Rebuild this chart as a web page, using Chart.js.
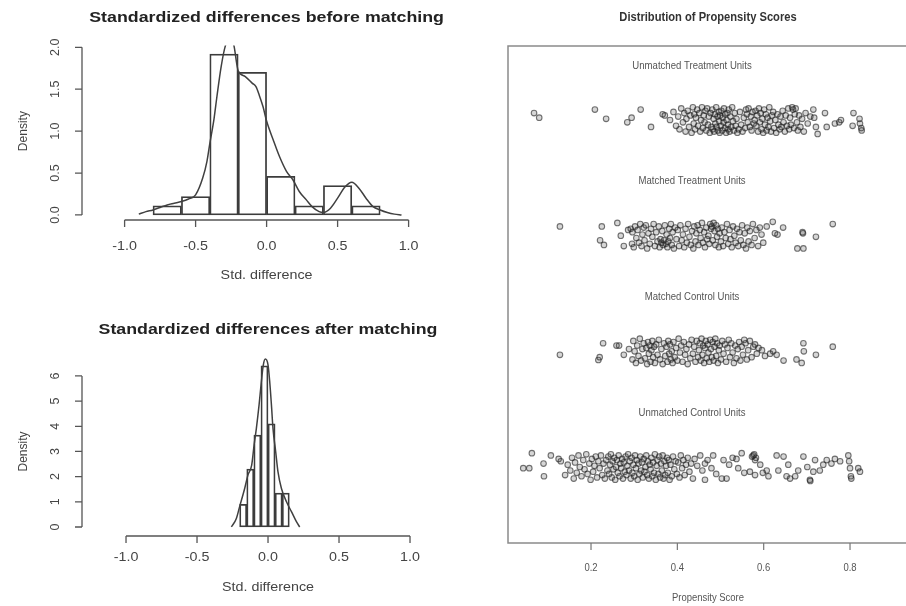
<!DOCTYPE html>
<html>
<head>
<meta charset="utf-8">
<script src="https://cdn.jsdelivr.net/npm/chart.js@4.4.1/dist/chart.umd.min.js"></script>
<style>
  html, body { margin: 0; padding: 0; background: #fff; overflow: hidden; }
  .panel { position: absolute; }
  #before { left: 0; top: 0; }
  #after { left: 0; top: 300px; }
  #scores { left: 470px; top: 0; }
</style>
</head>
<body>
<canvas id="before" class="panel" width="470" height="300"></canvas>
<canvas id="after" class="panel" width="470" height="306"></canvas>
<canvas id="scores" class="panel" width="440" height="606"></canvas>
<script>
// Histogram of standardized differences before matching
const xTicks = [-1, -0.5, 0, 0.5, 1];
const beforeBreaks = [-0.8, -0.6, -0.4, -0.2, 0, 0.2, 0.4, 0.6, 0.8];
const beforeDensity = [0.11, 0.22, 1.92, 1.70, 0.46, 0.11, 0.35, 0.11];
const beforeCurveX = [-0.90, -0.85, -0.80, -0.75, -0.70, -0.65, -0.60, -0.55, -0.50, -0.45, -0.42, -0.40, -0.37, -0.35,
  -0.32, -0.29, -0.26, -0.23, -0.21, -0.20, -0.15, -0.10, -0.075, -0.05, -0.025, 0.00, 0.05, 0.09, 0.14, 0.185,
  0.23, 0.28, 0.32, 0.37, 0.40, 0.45, 0.50, 0.55, 0.60, 0.65, 0.70, 0.75, 0.80, 0.85, 0.90, 0.95];
const beforeCurveY = [0.01, 0.04, 0.06, 0.09, 0.12, 0.14, 0.16, 0.19, 0.24, 0.44, 0.64, 0.85, 1.15, 1.41,
  1.77, 2.02, 2.10, 2.02, 1.80, 1.72, 1.65, 1.57, 1.53, 1.42, 1.29, 1.12, 0.88, 0.70, 0.52, 0.42,
  0.28, 0.18, 0.10, 0.04, 0.03, 0.08, 0.20, 0.33, 0.39, 0.32, 0.20, 0.10, 0.06, 0.03, 0.01, 0.00];
const beforeYTicks = [0, 0.5, 1, 1.5, 2];

// Histogram of standardized differences after matching
const afterBreaks = [-0.2, -0.15, -0.1, -0.05, 0, 0.05, 0.1, 0.15];
const afterDensity = [0.9, 2.3, 3.65, 6.4, 4.1, 1.35, 1.35];
const afterCurveX = [-0.258, -0.223, -0.20, -0.164, -0.141, -0.115, -0.098, -0.082, -0.063, -0.047, -0.033, -0.019,
  0.0, 0.012, 0.024, 0.035, 0.054, 0.07, 0.094, 0.13, 0.165, 0.20, 0.223];
const afterCurveY = [0.0, 0.34, 0.81, 1.54, 2.07, 2.46, 3.26, 3.92, 4.85, 5.77, 6.44, 6.67,
  6.44, 5.77, 4.85, 3.92, 2.99, 2.2, 1.54, 1.0, 0.61, 0.21, 0.0];
const afterYTicks = [0, 1, 2, 3, 4, 5, 6];

// Propensity score strips: [score, jitter]
const stripNames = ['Unmatched Treatment Units', 'Matched Treatment Units', 'Matched Control Units', 'Unmatched Control Units'];
const stripLevels = [4, 3, 2, 1];
const scoreTicks = [0.2, 0.4, 0.6, 0.8];

const unmatchedTreatment = [
  [0.068,0.06],[0.080,0.02],[0.209,0.09],[0.235,0.01],[0.284,-0.02],[0.294,0.02],[0.315,0.09],[0.339,-0.06],[0.366,0.05],[0.371,0.04],
  [0.383,0.00],[0.391,0.07],[0.397,-0.05],
  [0.402,0.03],[0.405,-0.08],[0.409,0.10],[0.413,-0.02],[0.416,0.06],[0.419,-0.10],
  [0.421,0.01],[0.424,0.08],[0.427,-0.06],[0.430,0.04],[0.433,-0.11],[0.436,0.11],[0.438,-0.03],[0.439,0.05],
  [0.441,-0.08],[0.443,0.02],[0.446,0.09],[0.448,-0.05],[0.451,0.06],[0.453,-0.10],[0.455,0.00],[0.457,0.11],[0.459,-0.07],
  [0.461,0.04],[0.463,-0.02],[0.465,0.08],[0.467,-0.09],[0.469,0.10],[0.471,-0.04],[0.473,0.03],[0.475,-0.11],[0.477,0.06],[0.479,-0.06],
  [0.481,0.09],[0.482,-0.08],[0.484,0.01],[0.485,-0.10],[0.487,0.05],[0.488,-0.03],[0.490,0.11],[0.491,-0.06],[0.493,0.03],[0.494,-0.09],
  [0.496,0.07],[0.497,-0.01],[0.498,-0.11],[0.499,0.04],
  [0.501,-0.05],[0.502,0.08],[0.504,-0.09],[0.505,0.02],[0.507,-0.02],[0.508,0.10],[0.510,-0.07],[0.511,0.05],[0.513,-0.11],[0.514,0.00],
  [0.516,0.06],[0.517,-0.04],[0.518,-0.08],[0.519,0.09],
  [0.521,-0.10],[0.523,0.03],[0.525,-0.06],[0.527,0.11],[0.529,-0.01],[0.531,-0.09],[0.533,0.06],[0.535,-0.05],[0.537,0.01],[0.539,-0.11],
  [0.542,-0.08],[0.545,0.07],[0.548,-0.04],[0.551,-0.10],[0.554,0.02],[0.557,-0.07],[0.559,0.09],
  [0.561,0.05],[0.563,-0.02],[0.565,0.10],[0.568,-0.06],[0.570,0.03],[0.572,-0.09],[0.574,0.07],[0.577,-0.03],[0.579,0.00],
  [0.581,0.08],[0.583,-0.05],[0.585,0.04],[0.587,-0.10],[0.589,0.10],[0.591,-0.02],[0.593,0.06],[0.595,-0.08],[0.597,0.01],[0.599,-0.11],
  [0.601,0.09],[0.603,-0.04],[0.605,0.05],[0.607,-0.09],[0.609,0.02],[0.611,-0.06],[0.613,0.11],[0.615,-0.01],[0.617,-0.10],[0.619,0.04],
  [0.622,0.07],[0.624,-0.07],[0.627,0.00],[0.629,-0.11],[0.632,0.05],[0.634,-0.04],[0.637,-0.08],[0.639,0.03],
  [0.641,-0.06],[0.644,0.08],[0.646,-0.02],[0.649,-0.10],[0.651,0.04],[0.654,-0.05],[0.657,0.10],[0.659,-0.08],
  [0.661,0.02],[0.663,-0.04],[0.666,0.11],[0.668,0.09],[0.670,-0.07],[0.672,0.05],[0.674,0.10],[0.677,-0.02],[0.679,-0.09],
  [0.682,0.04],[0.685,-0.06],[0.689,0.01],[0.693,-0.10],[0.697,0.06],
  [0.702,-0.03],[0.708,0.03],[0.715,0.09],[0.717,0.02],
  [0.721,-0.06],[0.725,-0.12],[0.742,0.06],[0.746,-0.06],[0.765,-0.03],[0.775,-0.02],[0.779,0.00],[0.806,-0.05],[0.808,0.06],
  [0.822,0.01],[0.823,-0.03],[0.826,-0.07],[0.827,-0.09]
];

const matchedTreatment = [
  [0.128,0.08],[0.221,-0.04],[0.225,0.08],[0.230,-0.08],[0.261,0.11],[0.269,0.00],[0.276,-0.09],[0.286,0.05],[0.295,-0.07],
  [0.292,0.06],[0.296,0.03],[0.299,-0.10],[0.302,0.08],[0.305,-0.02],[0.308,0.05],[0.311,-0.06],[0.314,0.10],[0.317,-0.09],[0.319,0.01],
  [0.322,0.07],[0.324,-0.04],[0.327,0.09],[0.330,-0.11],[0.333,0.02],[0.336,-0.07],[0.339,0.06],[0.342,-0.01],[0.345,0.10],[0.348,-0.09],
  [0.351,0.03],[0.354,-0.05],[0.357,0.08],[0.359,-0.10],
  [0.361,-0.03],[0.363,-0.06],[0.365,0.04],[0.367,-0.08],[0.369,-0.04],[0.371,0.09],[0.373,-0.07],[0.375,0.01],[0.377,-0.10],[0.379,-0.05],
  [0.381,0.06],[0.383,-0.02],[0.385,0.10],[0.387,-0.08],[0.389,0.03],[0.392,-0.11],[0.395,0.07],[0.398,-0.03],
  [0.401,0.05],[0.404,-0.09],[0.407,0.09],[0.410,-0.04],[0.413,0.01],[0.416,-0.10],[0.419,0.06],[0.422,-0.06],[0.425,0.10],[0.428,-0.01],
  [0.431,-0.08],[0.434,0.04],[0.437,-0.11],[0.439,0.08],
  [0.442,-0.05],[0.444,0.02],[0.447,0.09],[0.449,-0.08],[0.452,0.05],[0.454,-0.02],[0.457,0.11],[0.459,-0.06],[0.462,0.03],[0.464,-0.10],
  [0.467,0.07],[0.469,-0.03],[0.472,0.00],[0.474,-0.07],[0.476,0.10],[0.478,0.06],
  [0.480,0.08],[0.482,-0.04],[0.484,0.11],[0.486,0.04],[0.488,-0.08],[0.490,0.09],[0.492,-0.01],[0.494,0.06],[0.496,-0.10],[0.498,0.02],
  [0.501,-0.05],[0.503,0.07],[0.506,-0.09],[0.509,0.03],[0.512,-0.02],[0.515,0.10],[0.518,-0.07],
  [0.521,0.05],[0.523,-0.03],[0.526,-0.10],[0.529,0.08],[0.532,0.00],[0.535,-0.06],[0.538,0.06],[0.541,-0.09],[0.544,0.03],[0.547,-0.04],
  [0.550,0.09],[0.553,-0.08],[0.556,0.02],[0.559,-0.11],
  [0.562,0.07],[0.565,-0.05],[0.568,0.04],[0.572,-0.08],[0.575,0.10],[0.579,-0.02],[0.583,0.05],[0.587,-0.09],[0.591,0.07],[0.595,0.01],
  [0.599,-0.06],
  [0.607,0.08],[0.621,0.12],[0.626,0.02],[0.632,0.01],[0.645,0.07],[0.678,-0.11],[0.690,0.03],[0.691,0.02],[0.692,-0.11],[0.721,-0.01],
  [0.760,0.10]
];

const matchedControl = [
  [0.128,-0.03],[0.217,-0.075],[0.220,-0.05],[0.228,0.07],[0.259,0.05],[0.265,0.05],[0.276,-0.03],[0.288,0.02],[0.296,-0.07],
  [0.298,0.09],[0.301,0.00],[0.304,-0.10],[0.307,0.05],[0.310,-0.04],[0.313,0.11],[0.316,-0.08],[0.319,0.02],[0.322,0.07],[0.325,-0.06],
  [0.328,0.03],[0.330,-0.11],
  [0.332,0.08],[0.334,-0.02],[0.336,0.05],[0.338,-0.09],[0.340,0.01],[0.342,0.09],[0.344,-0.05],[0.346,0.04],[0.348,-0.10],[0.351,0.06],
  [0.354,-0.03],[0.357,0.10],[0.360,-0.07],[0.363,0.02],[0.366,-0.11],[0.369,0.07],
  [0.372,-0.04],[0.375,0.04],[0.377,-0.09],[0.379,0.09],[0.381,-0.02],[0.383,0.06],[0.385,-0.07],[0.387,0.00],[0.389,-0.10],[0.391,0.08],
  [0.394,-0.05],[0.397,0.03],[0.400,-0.08],[0.403,0.11],[0.406,-0.01],[0.409,0.05],
  [0.412,-0.09],[0.415,0.08],[0.418,-0.03],[0.421,0.02],[0.424,-0.11],[0.427,0.06],[0.430,-0.06],[0.433,0.10],[0.436,-0.02],[0.439,0.04],
  [0.442,-0.09],[0.445,0.09],[0.448,-0.05],
  [0.450,0.01],[0.452,0.07],[0.454,-0.08],[0.456,0.11],[0.458,-0.03],[0.460,0.05],[0.462,-0.10],[0.464,0.03],[0.466,0.09],[0.468,-0.06],
  [0.470,0.06],[0.472,-0.01],[0.474,-0.09],[0.476,0.10],[0.478,0.02],[0.480,-0.05],[0.482,0.08],[0.484,-0.08],[0.486,0.04],[0.488,0.11],
  [0.490,-0.04],[0.492,0.07],[0.494,-0.10],[0.496,0.01],[0.498,0.05],
  [0.501,-0.07],[0.504,0.09],[0.507,-0.02],[0.510,0.06],[0.513,-0.09],[0.516,0.03],[0.519,0.10],[0.522,-0.05],[0.525,0.07],[0.528,-0.01],
  [0.531,-0.10],[0.534,0.05],[0.537,-0.06],[0.540,0.02],[0.543,0.08],[0.546,-0.08],
  [0.549,0.04],[0.552,-0.03],[0.555,0.10],[0.558,0.07],[0.561,-0.07],[0.564,0.01],[0.568,0.09],[0.572,-0.05],[0.576,0.04],[0.580,0.06],
  [0.584,-0.02],[0.588,0.03],
  [0.596,0.01],[0.603,-0.04],[0.615,-0.02],[0.622,0.00],[0.630,-0.03],[0.646,-0.08],[0.676,-0.07],[0.688,-0.10],[0.692,0.07],[0.693,0.00],
  [0.721,-0.03],[0.760,0.04]
];

const unmatchedControl = [
  [0.043,-0.01],[0.057,-0.01],[0.063,0.12],[0.090,0.03],[0.091,-0.08],[0.107,0.10],[0.125,0.07],[0.130,0.05],[0.140,-0.07],[0.146,0.02],
  [0.152,-0.03],[0.156,0.08],[0.160,-0.10],[0.163,0.04],[0.167,-0.05],[0.171,0.10],[0.174,0.00],[0.178,-0.08],[0.182,0.06],[0.185,-0.02],
  [0.189,0.11],[0.192,-0.06],[0.196,0.03],[0.199,-0.11],
  [0.202,0.07],[0.205,-0.04],[0.208,0.01],[0.211,0.09],[0.214,-0.09],[0.217,0.05],[0.220,-0.01],[0.223,0.10],[0.226,-0.07],[0.229,0.03],
  [0.232,-0.10],[0.235,0.06],[0.238,-0.03],
  [0.240,0.09],[0.242,-0.06],[0.244,0.02],[0.246,0.11],[0.248,-0.09],[0.250,0.05],[0.252,-0.02],[0.254,0.08],[0.256,-0.11],[0.258,0.00],
  [0.260,0.06],[0.262,-0.05],[0.264,0.10],[0.266,-0.08],[0.268,0.03],[0.270,-0.01],[0.272,0.07],[0.274,-0.10],[0.276,0.04],[0.278,-0.04],
  [0.280,0.09],[0.282,-0.07],[0.284,0.01],[0.286,0.11],[0.288,-0.03],[0.290,0.05],[0.292,-0.10],[0.294,0.08],[0.296,-0.05],[0.298,0.02],
  [0.300,-0.08],[0.302,0.10],[0.304,-0.01],[0.306,0.06],[0.308,-0.11],[0.310,0.03],[0.312,-0.06],[0.314,0.09],[0.316,-0.03],[0.318,0.04],
  [0.320,-0.09],[0.322,0.07],[0.324,-0.04],[0.326,0.00],[0.328,0.10],[0.330,-0.07],[0.332,0.05],[0.334,-0.10],[0.336,0.02],[0.338,-0.02],
  [0.340,0.08],[0.342,-0.08],[0.344,0.04],[0.346,-0.05],[0.348,0.11],[0.350,-0.11],[0.352,0.01],[0.354,0.06],[0.356,-0.06],[0.358,0.09],
  [0.360,-0.09],[0.362,0.03],[0.364,-0.03],[0.366,0.10],[0.368,-0.10],[0.370,0.05],[0.372,-0.07],[0.374,0.01],[0.376,0.08],[0.378,-0.05],
  [0.380,0.06],[0.382,-0.11],[0.384,0.02],[0.387,-0.08],[0.390,0.09],[0.393,-0.02],[0.396,0.05],[0.399,-0.06],
  [0.402,0.04],[0.405,-0.09],[0.408,0.10],[0.411,-0.01],[0.414,0.06],[0.417,-0.07],[0.420,0.02],[0.424,0.08],[0.428,-0.04],[0.432,0.03],
  [0.436,-0.10],[0.440,0.07],
  [0.446,0.01],[0.453,0.10],[0.458,-0.03],[0.464,0.03],[0.464,-0.11],[0.470,0.06],[0.479,-0.01],[0.483,0.10],[0.490,-0.06],[0.503,-0.10],
  [0.507,0.06],[0.514,-0.10],[0.520,0.02],[0.528,0.08],[0.537,0.07],[0.541,-0.01],[0.549,0.12],[0.555,-0.05],[0.568,-0.04],[0.573,0.09],
  [0.576,0.10],[0.578,0.11],[0.580,0.06],[0.582,0.08],[0.580,-0.07],[0.592,0.02],[0.598,-0.05],[0.607,-0.03],[0.611,-0.08],[0.630,0.10],
  [0.634,-0.03],[0.646,0.09],[0.653,-0.08],[0.657,0.02],[0.661,-0.10],[0.673,-0.08],[0.680,-0.03],[0.692,0.09],[0.701,0.00],[0.707,-0.11],
  [0.708,-0.12],[0.715,-0.04],[0.719,0.06],[0.730,-0.03],[0.738,0.02],[0.746,0.06],[0.757,0.03],[0.765,0.07],[0.777,0.05],[0.796,0.10],
  [0.798,0.05],[0.800,-0.01],[0.802,-0.08],[0.803,-0.10],[0.819,-0.01],[0.823,-0.04]
];

const strips = [unmatchedTreatment, matchedTreatment, matchedControl, unmatchedControl];

const FONT = '"Liberation Sans", Arial, sans-serif';

function drawText(ctx, text, x, y, o) {
  ctx.save();
  ctx.translate(x, y);
  if (o.rotate) ctx.rotate(o.rotate);
  ctx.scale(o.sx || 1, 1);
  ctx.font = (o.bold ? 'bold ' : '') + o.size + 'px ' + FONT;
  ctx.fillStyle = o.color || '#333';
  ctx.textAlign = 'center';
  ctx.textBaseline = 'middle';
  ctx.fillText(text, 0, 0);
  ctx.restore();
}

// R style axes: lines only span the tick range
function histAxes(cfg) {
  return {
    id: 'histAxes',
    afterDraw(chart) {
      const {ctx, chartArea: a, scales: {x, y}} = chart;
      ctx.save();
      ctx.strokeStyle = '#555';
      ctx.lineWidth = 1.3;
      ctx.beginPath();
      ctx.moveTo(x.getPixelForValue(xTicks[0]), a.bottom);
      ctx.lineTo(x.getPixelForValue(xTicks[xTicks.length - 1]), a.bottom);
      xTicks.forEach(t => {
        const px = x.getPixelForValue(t);
        ctx.moveTo(px, a.bottom);
        ctx.lineTo(px, a.bottom + 7);
      });
      ctx.moveTo(a.left, y.getPixelForValue(cfg.yTicks[0]));
      ctx.lineTo(a.left, y.getPixelForValue(cfg.yTicks[cfg.yTicks.length - 1]));
      cfg.yTicks.forEach(t => {
        const py = y.getPixelForValue(t);
        ctx.moveTo(a.left, py);
        ctx.lineTo(a.left - 7, py);
      });
      ctx.stroke();
      ctx.restore();

      xTicks.forEach(t => {
        drawText(ctx, t.toFixed(1), x.getPixelForValue(t), a.bottom + cfg.tickGap, {size: 13, sx: 1.1, color: '#444'});
      });
      cfg.yTicks.forEach(t => {
        drawText(ctx, t.toFixed(cfg.yDecimals), a.left - 26, y.getPixelForValue(t), {size: 12.5, rotate: -Math.PI / 2, color: '#444'});
      });
      const yMid = (y.getPixelForValue(cfg.yTicks[0]) + y.getPixelForValue(cfg.yTicks[cfg.yTicks.length - 1])) / 2;
      drawText(ctx, 'Density', a.left - 58, yMid, {size: 12, rotate: -Math.PI / 2, color: '#444'});
      drawText(ctx, 'Std. difference', x.getPixelForValue(0), a.bottom + cfg.labelGap, {size: 13, sx: 1.1, color: '#444'});
      drawText(ctx, cfg.title, x.getPixelForValue(0), cfg.titleY, {size: 14, bold: true, sx: 1.27, color: '#222'});
    }
  };
}

function histChart(id, breaks, density, curveX, curveY, cfg) {
  const bars = density.map((d, i) => ({x: (breaks[i] + breaks[i + 1]) / 2, y: d}));
  const curve = curveX.map((v, i) => ({x: v, y: curveY[i]}));
  return new Chart(document.getElementById(id), {
    type: 'bar',
    data: {
      datasets: [
        {
          type: 'line',
          data: curve,
          borderColor: '#404040',
          borderWidth: 1.5,
          pointRadius: 0,
          cubicInterpolationMode: 'monotone',
          fill: false
        },
        {
          type: 'bar',
          data: bars,
          backgroundColor: 'rgba(255,255,255,0)',
          borderColor: '#3c3c3c',
          borderWidth: 1.1,
          borderSkipped: false,
          barPercentage: 1,
          categoryPercentage: 1,
          grouped: false
        }
      ]
    },
    options: {
      responsive: false,
      animation: false,
      devicePixelRatio: 1,
      layout: {padding: cfg.padding, autoPadding: false},
      plugins: {legend: {display: false}, tooltip: {enabled: false}},
      scales: {
        x: {type: 'linear', min: cfg.xMin, max: cfg.xMax, offset: false, display: false},
        y: {type: 'linear', min: cfg.yMin, max: cfg.yMax, display: false}
      }
    },
    plugins: [histAxes(cfg)]
  });
}

histChart('before', beforeBreaks, beforeDensity, beforeCurveX, beforeCurveY, {
  title: 'Standardized differences before matching',
  titleY: 18, tickGap: 26, labelGap: 55,
  yTicks: beforeYTicks, yDecimals: 1,
  xMin: -1.30, xMax: 1.30, yMin: -0.06, yMax: 2.02,
  padding: {left: 82, right: 18.8, top: 45.6, bottom: 80}
});

histChart('after', afterBreaks, afterDensity, afterCurveX, afterCurveY, {
  title: 'Standardized differences after matching',
  titleY: 30, tickGap: 21, labelGap: 51,
  yTicks: afterYTicks, yDecimals: 0,
  xMin: -1.31, xMax: 1.29, yMin: -0.358, yMax: 6.9,
  padding: {left: 82, right: 18.8, top: 53.3, bottom: 70}
});

// Strip chart of propensity scores
const stripFrame = {
  id: 'stripFrame',
  afterDraw(chart) {
    const {ctx, chartArea: a, scales: {x, y}} = chart;
    ctx.save();
    ctx.strokeStyle = '#8a8a8a';
    ctx.lineWidth = 1.5;
    ctx.strokeRect(a.left, a.top, a.right - a.left, a.bottom - a.top);
    ctx.strokeStyle = '#777';
    ctx.lineWidth = 1.2;
    ctx.beginPath();
    scoreTicks.forEach(t => {
      const px = x.getPixelForValue(t);
      ctx.moveTo(px, a.bottom);
      ctx.lineTo(px, a.bottom + 7);
    });
    ctx.stroke();
    ctx.restore();
    scoreTicks.forEach(t => {
      drawText(ctx, t.toFixed(1), x.getPixelForValue(t), a.bottom + 25, {size: 11, sx: 0.86, color: '#555'});
    });
    stripNames.forEach((name, i) => {
      drawText(ctx, name, x.getPixelForValue(0.434), y.getPixelForValue(stripLevels[i] + 0.47), {size: 11, sx: 0.87, color: '#555'});
    });
    drawText(ctx, 'Propensity Score', (a.left + a.right) / 2, a.bottom + 55, {size: 11, sx: 0.86, color: '#555'});
    drawText(ctx, 'Distribution of Propensity Scores', (a.left + a.right) / 2, 18, {size: 12, bold: true, sx: 0.93, color: '#333'});
  }
};

new Chart(document.getElementById('scores'), {
  type: 'scatter',
  data: {
    datasets: strips.map((pts, i) => ({
      label: stripNames[i],
      data: pts.map(p => ({x: p[0], y: stripLevels[i] + p[1]})),
      pointRadius: 2.8,
      pointBorderWidth: 1.1,
      borderColor: 'rgba(30,30,30,0.6)',
      backgroundColor: 'rgba(50,50,50,0.2)'
    }))
  },
  options: {
    responsive: false,
    animation: false,
    devicePixelRatio: 1,
    layout: {padding: {left: 38, right: 2, top: 46, bottom: 63}, autoPadding: false},
    plugins: {legend: {display: false}, tooltip: {enabled: false}},
    scales: {
      x: {type: 'linear', min: 0.0077, max: 0.9343, display: false},
      y: {type: 'linear', min: 0.343, max: 4.64, display: false}
    }
  },
  plugins: [stripFrame]
});
</script>
</body>
</html>
